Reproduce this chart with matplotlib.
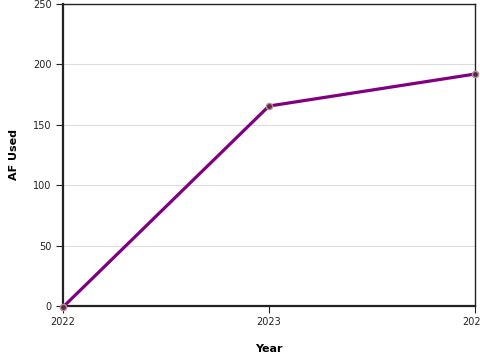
import matplotlib
matplotlib.use("Agg")
import matplotlib.pyplot as plt

years = [2022, 2023, 2024]
af_used = [-1, 165.5, 192]
y_ticks = [0, 50, 100, 150, 200, 250]

fig = plt.figure(figsize=(4.8, 3.6), dpi=100)
ax = fig.add_axes([0.131, 0.15, 0.8585, 0.839])

ax.plot(years, af_used, color='#800080', lw=2.3, zorder=3,
        marker='o', markersize=4.5, markerfacecolor='#5c2a50',
        markeredgecolor='#b89090', markeredgewidth=1, clip_on=False)

ax.set_xlim(2022, 2024)
ax.set_ylim(0, 250)
ax.set_xticks(years)
ax.set_xticklabels([str(y) for y in years])
ax.set_yticks(y_ticks)
ax.grid(axis='y', color='#dddddd', lw=0.8)
ax.set_axisbelow(True)

for side in ['left', 'bottom']:
    ax.spines[side].set_linewidth(1.6)
    ax.spines[side].set_color('#222222')
for side in ['top', 'right']:
    ax.spines[side].set_linewidth(1.0)
    ax.spines[side].set_color('#222222')

ax.tick_params(labelsize=7, colors='#222222', length=5, width=0.8, pad=3)
ax.set_xlabel('Year', fontsize=8, fontweight='bold', labelpad=12)
ax.set_ylabel('AF Used', fontsize=8, fontweight='bold', labelpad=10)

fig.savefig('out.png', dpi=100)
